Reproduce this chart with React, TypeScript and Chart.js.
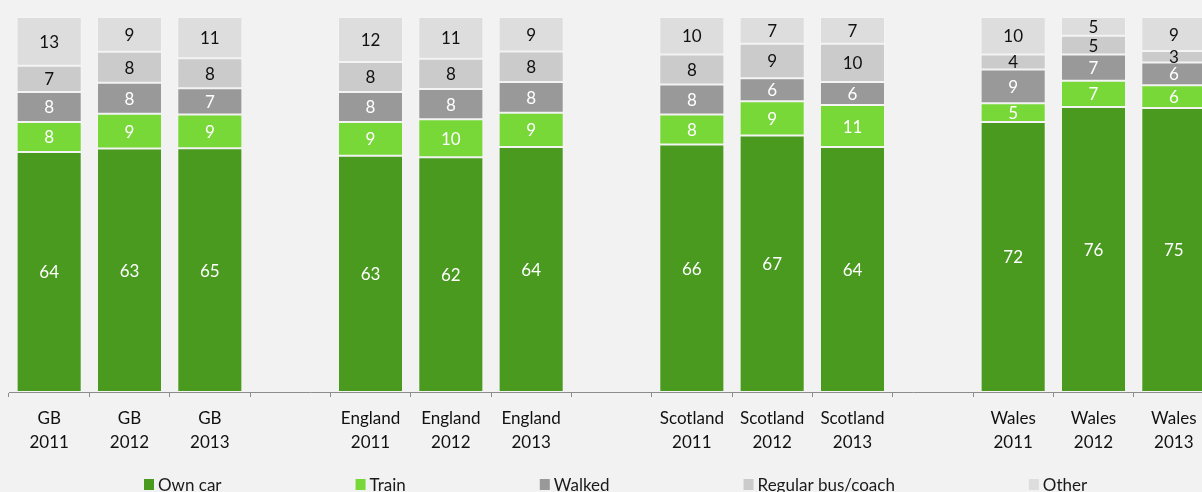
import React, { useEffect, useRef } from "react";
import { Chart, registerables } from "chart.js";

Chart.register(...registerables);

const categories: string[][] = [
  ["GB", "2011"], ["GB", "2012"], ["GB", "2013"], ["", ""],
  ["England", "2011"], ["England", "2012"], ["England", "2013"], ["", ""],
  ["Scotland", "2011"], ["Scotland", "2012"], ["Scotland", "2013"], ["", ""],
  ["Wales", "2011"], ["Wales", "2012"], ["Wales", "2013"],
];

const ownCar = [64, 63, 65, null, 63, 62, 64, null, 66, 67, 64, null, 72, 76, 75];
const train = [8, 9, 9, null, 9, 10, 9, null, 8, 9, 11, null, 5, 7, 6];
const walked = [8, 8, 7, null, 8, 8, 8, null, 8, 6, 6, null, 9, 7, 6];
const regularBus = [7, 8, 8, null, 8, 8, 8, null, 8, 9, 10, null, 4, 5, 3];
const other = [13, 9, 11, null, 12, 11, 9, null, 10, 7, 7, null, 10, 5, 9];

const seriesNames = ["Own car", "Train", "Walked", "Regular bus/coach", "Other"];
const seriesValues: (number | null)[][] = [ownCar, train, walked, regularBus, other];
const seriesColors = ["#4A9A20", "#78D838", "#999999", "#CBCBCB", "#DDDDDD"];
const labelColors = ["#FFFFFF", "#FFFFFF", "#FFFFFF", "#111111", "#111111"];

const FONT = "Lato, 'Open Sans', sans-serif";

const totals = categories.map((_, i) =>
  seriesValues.reduce((s, arr) => s + (arr[i] ?? 0), 0)
);

const segLabels = {
  id: "segLabels",
  afterDatasetsDraw(chart: any) {
    const ctx = chart.ctx;
    ctx.save();
    ctx.font = `17px ${FONT}`;
    ctx.textAlign = "center";
    ctx.textBaseline = "middle";
    chart.data.datasets.forEach((ds: any, di: number) => {
      const meta = chart.getDatasetMeta(di);
      meta.data.forEach((el: any, i: number) => {
        const raw = seriesValues[di][i];
        if (raw == null) return;
        const p = el.getProps(["x", "y", "base"], true);
        ctx.fillStyle = labelColors[di];
        ctx.fillText(String(raw), p.x, (p.y + p.base) / 2 + 1);
      });
    });
    ctx.restore();
  },
};

const customLegend = {
  id: "customLegend",
  afterDraw(chart: any) {
    const ctx = chart.ctx;
    ctx.save();
    ctx.font = `17px ${FONT}`;
    ctx.textBaseline = "middle";
    ctx.textAlign = "left";
    const box = 10;
    const gap = 134;
    const y = 486;
    let x = 144;
    chart.data.datasets.forEach((ds: any) => {
      ctx.fillStyle = ds.backgroundColor;
      ctx.fillRect(x, y - 7, box, 11);
      ctx.fillStyle = "#1a1a1a";
      ctx.fillText(ds.label, x + box + 4, y);
      x += box + 4 + ctx.measureText(ds.label).width + gap;
    });
    ctx.restore();
  },
};

export default function App() {
  const ref = useRef<HTMLCanvasElement | null>(null);
  useEffect(() => {
    if (!ref.current) return;
    const chart = new Chart(ref.current, {
      type: "bar",
      data: {
        labels: categories,
        datasets: seriesValues.map((vals, di) => ({
          label: seriesNames[di],
          data: vals.map((v, i) => (v == null ? null : (v / totals[i]) * 100)),
          backgroundColor: seriesColors[di],
          borderColor: "rgba(255,255,255,0.2)",
          borderWidth: 1,
          borderSkipped: false,
          barPercentage: 1,
          categoryPercentage: 0.81,
        })),
      },
      options: {
        animation: false,
        responsive: false,
        layout: { padding: { left: 9, right: 8, top: 17, bottom: 0 } },
        plugins: { legend: { display: false }, tooltip: { enabled: false } },
        scales: {
          x: {
            stacked: true,
            afterFit: (scale: any) => {
              scale.height = 100;
            },
            grid: {
              display: true,
              drawOnChartArea: false,
              drawTicks: true,
              tickLength: 5,
              color: "#8C8C8C",
              offset: true,
            },
            border: { display: true, color: "#8C8C8C", width: 1 },
            ticks: {
              color: "#111111",
              padding: 10,
              maxRotation: 0,
              autoSkip: false,
              font: { family: FONT, size: 17, lineHeight: 1.4 },
            },
          },
          y: { stacked: true, min: 0, max: 100, display: false },
        },
      },
      plugins: [segLabels, customLegend],
    });
    return () => chart.destroy();
  }, []);
  return (
    <div
      style={{
        position: "fixed",
        left: 0,
        top: 0,
        width: 1202,
        height: 492,
        overflow: "hidden",
        background: "#F2F2F2",
      }}
    >
      <canvas ref={ref} width={1222} height={492} style={{ display: "block" }} />
    </div>
  );
}
